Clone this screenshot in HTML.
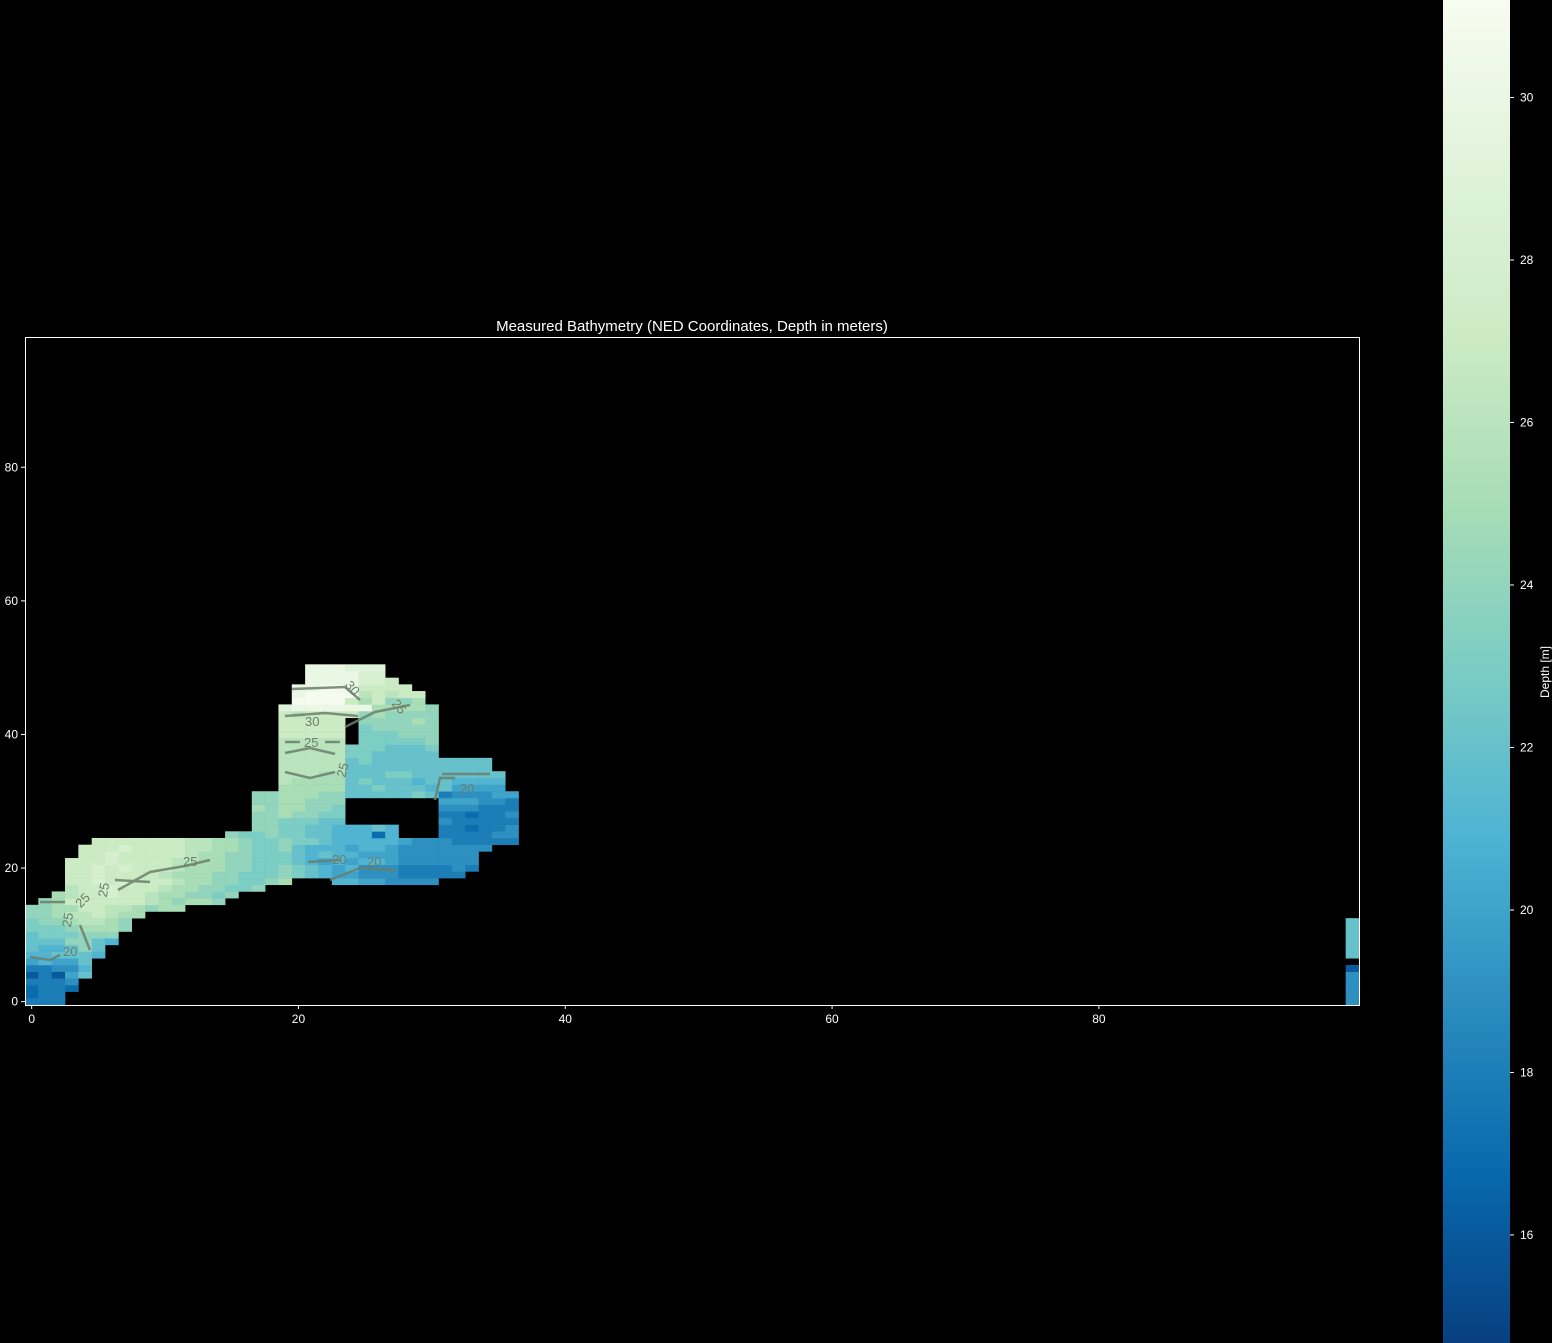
<!DOCTYPE html>
<html><head><meta charset="utf-8"><style>
html,body{margin:0;padding:0;background:#000;}
svg{display:block;font-family:"Liberation Sans",sans-serif;}
</style></head><body>
<svg id="chart" width="1552" height="1343" viewBox="0 0 1552 1343" xmlns="http://www.w3.org/2000/svg">
<defs>
<linearGradient id="cb" x1="0" y1="1" x2="0" y2="0">
<stop offset="0" stop-color="#084081"/><stop offset="0.125" stop-color="#0868ac"/><stop offset="0.25" stop-color="#2b8cbe"/><stop offset="0.375" stop-color="#4eb3d3"/><stop offset="0.5" stop-color="#7bccc4"/><stop offset="0.625" stop-color="#a8ddb5"/><stop offset="0.75" stop-color="#ccebc5"/><stop offset="0.875" stop-color="#e0f3db"/><stop offset="1" stop-color="#f7fcf0"/>
</linearGradient>
</defs>
<rect x="0" y="0" width="1552" height="1343" fill="#000"/>
<text x="692" y="331" fill="#fff" font-size="15" text-anchor="middle">Measured Bathymetry (NED Coordinates, Depth in meters)</text>
<g id="cells"></g>
<g id="contours" fill="none" stroke="#6b7f6b" stroke-width="2.5" opacity="0.85">
<polyline points="285,716 325,713 358,716"/><polyline points="292,689 345,687 360,700"/><polyline points="345,727 375,712 410,705"/><polyline points="285,742 300,742"/><polyline points="325,742 340,742"/><polyline points="285,753 310,748 335,754"/><polyline points="285,772 310,778 335,772"/><polyline points="118,890 150,872 185,866 210,860"/><polyline points="115,880 150,882"/><polyline points="40,902 65,902"/><polyline points="30,957 50,960 60,955"/><polyline points="308,862 340,860"/><polyline points="330,880 360,868 395,870"/><polyline points="442,774 490,774"/><polyline points="435,800 440,778 455,778"/><polyline points="80,925 90,950"/>
</g>
<g fill="#6b7f6b" font-size="13">
<text x="305" y="726">30</text><text x="304" y="747">25</text><text x="335" y="775" transform="rotate(-75 342 770)">25</text><text x="183" y="866">25</text><text x="63" y="956">20</text><text x="332" y="864">20</text><text x="367" y="866">20</text><text x="460" y="793">20</text><text x="96" y="895" transform="rotate(-80 103 890)">25</text><text x="75" y="905" transform="rotate(-45 82 900)">25</text><text x="60" y="925" transform="rotate(-80 67 920)">25</text><text x="345" y="692" transform="rotate(50 352 688)">30</text><text x="392" y="710" transform="rotate(50 398 706)">25</text>
</g>
<rect x="25.5" y="337.5" width="1334" height="668" fill="none" stroke="#fff" stroke-width="1"/>
<g id="xaxis"></g>
<g id="yaxis"></g>
<rect x="1443" y="0" width="67" height="1343" fill="url(#cb)"/>
<g id="cbaxis"></g>
<text x="1549" y="672" fill="#fff" font-size="12" text-anchor="middle" transform="rotate(-90 1549 672)">Depth [m]</text>
</svg>
<script>
// depth letters: a=15 ... q=31 (one metre per letter)
const rowSegments = [
 [[0,"ddd"]],[[0,"cdd"]],[[0,"cddc"]],[[0,"ddde"]],[[0,"bdbfh"]],[[0,"ddeeg"]],[[0,"fgffh"]],
 [[0,"gghhhg"]],[[0,"hgghjh"]],[[0,"hhhjjhg"]],[[0,"hiiijjj"]],[[0,"iiijkkkj"]],[[0,"ijjkllkj"]],
 [[0,"jjkllmlkk"]],[[0,"jjkkmmllkjkk"]],[[1,"jkmmmmmmlkjkkj"]],[[2,"klmmnmmlkkjjij"]],[[3,"lmmnmmmlkkjjiij"]],
 [[3,"mmnmnmmmlkkjjiijk"],[23,"ggffeeee"]],
 [[3,"mmnmmmmlkkkjjiiijihgffeeeddddd"]],
 [[3,"mmnmnmmmlkkkjjiijihgfgeeedddded"]],
 [[3,"mmmnmmmmllkkjjiiihgfgfggfeeeeee"]],
 [[4,"mmnmmmmmlkkjjiiihghggfffeeeeee"]],
 [[4,"mmmnmmmmllkkjiijhgggfggfeeeeeee"]],
 [[5,"mmmmmmmllkkjiijiihgggggfeeeddddd"]],
 [[15,"jiijiihhgggcg"],[31,"ddddee"]],
 [[17,"jjiihhggghg"],[31,"ddcdde"]],
 [[17,"jjiiihh"],[31,"eddddd"]],
 [[17,"jjkjjii"],[31,"ddcdde"]],
 [[17,"kjkkjji"],[31,"eeeddd"]],
 [[17,"jjkkjjj"],[31,"fffeed"]],
 [[17,"jjkkkjjhhhhhihdeeeff"]],
 [[19,"kkkkkhhihhhghffff"]],
 [[19,"lkkkkhihhhghhgggg"]],
 [[19,"lllkkhhhiihhhhhhh"]],
 [[19,"lllllhhhhhhhhhhh"]],
 [[19,"lllllhihhhhhhhhh"]],
 [[19,"llllliihhhhh"]],
 [[19,"llllliiihhhi"]],
 [[19,"lllll"],[25,"iiiiij"]],
 [[19,"mmmmm"],[25,"iiijjj"]],
 [[19,"mmmmm"],[25,"ijjjjj"]],
 [[19,"mmmmm"],[25,"jjjjkj"]],
 [[19,"mlmmmmjkjjjj"]],
 [[19,"oppppppkkkkj"]],
 [[20,"qqqqmkmjjk"]],
 [[20,"pqqqqlmlmm"]],
 [[20,"ppqqpmmmm"]],
 [[21,"ppppnnm"]],
 [[21,"ppppnn"]],
 [[21,"pppooo"]]
];
const edgeColumn = "eeeeeb.hhhhhh";
const xTicks = [0,20,40,60,80];
const yTicks = [0,20,40,60,80];
const cbTicks = [16,18,20,22,24,26,28,30];

const NS="http://www.w3.org/2000/svg";
const X0=25,X1=1359,Y0=1005,Y1=337;
const sx=v=>X0+(v+0.5)*(X1-X0)/100;
const sy=v=>Y0-(v+0.5)*(Y0-Y1)/100;
const VMIN=14.67,VMAX=31.2;
const stops=["#084081","#0868ac","#2b8cbe","#4eb3d3","#7bccc4","#a8ddb5","#ccebc5","#e0f3db","#f7fcf0"].map(h=>[1,3,5].map(i=>parseInt(h.substr(i,2),16)));
function color(v){let t=Math.max(0,Math.min(1,(v-VMIN)/(VMAX-VMIN)))*8;let i=Math.min(7,Math.floor(t)),f=t-i;
 const c=stops[i].map((a,k)=>Math.round(a+(stops[i+1][k]-a)*f));return `rgb(${c})`;}
const val=ch=>15+ch.charCodeAt(0)-97;
const g=document.getElementById('cells');
function cell(c,r,ch){
 if(ch==='.')return;
 const x=sx(c-0.5),y=sy(r+0.5);
 const re=document.createElementNS(NS,'rect');
 re.setAttribute('x',x.toFixed(2));re.setAttribute('y',y.toFixed(2));
 re.setAttribute('width',(sx(c+0.5)-x+0.3).toFixed(2));re.setAttribute('height',(sy(r-0.5)-y+0.3).toFixed(2));
 re.setAttribute('fill',color(val(ch)));
 
 
 g.appendChild(re);
}
rowSegments.forEach((segs,r)=>segs.forEach(([s,str])=>{for(let k=0;k<str.length;k++)cell(s+k,r,str[k]);}));
for(let r=0;r<edgeColumn.length;r++)cell(99,r,edgeColumn[r]);

function txt(parent,x,y,s,anchor){const t=document.createElementNS(NS,'text');t.setAttribute('x',x);t.setAttribute('y',y);t.setAttribute('fill','#fff');t.setAttribute('font-size','12');t.setAttribute('text-anchor',anchor);t.textContent=s;parent.appendChild(t);return t;}
function line(parent,x1,y1,x2,y2){const l=document.createElementNS(NS,'line');l.setAttribute('x1',x1);l.setAttribute('y1',y1);l.setAttribute('x2',x2);l.setAttribute('y2',y2);l.setAttribute('stroke','#fff');parent.appendChild(l);return l;}
const xa=document.getElementById('xaxis');
xTicks.forEach(v=>{const x=sx(v);
 const l=line(xa,x,1005,x,1009);
 
 
 const t=txt(xa,x,1023,String(v),'middle');
 
 });
const ya=document.getElementById('yaxis');
yTicks.forEach(v=>{const y=sy(v);
 const l=line(ya,21,y,25,y);
 
 
 const t=txt(ya,18,y+4,String(v),'end');
 
 });
const ca=document.getElementById('cbaxis');
cbTicks.forEach(v=>{const y=1343*(VMAX-v)/(VMAX-VMIN);
 const l=line(ca,1510,y,1514,y);
 
 
 const t=txt(ca,1520,y+4,String(v),'start');
 
 });
</script>
</body></html>
